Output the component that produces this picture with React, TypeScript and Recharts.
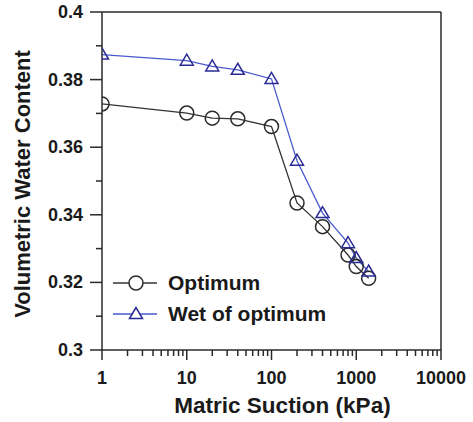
import React from 'react';
import { LineChart, Line, XAxis, YAxis, ReferenceLine, Label } from 'recharts';

const suction = [1, 10, 20, 40, 100, 200, 400, 800, 1000, 1400];
const optimum = [0.3728, 0.3701, 0.3686, 0.3684, 0.3661, 0.3435, 0.3365, 0.3281, 0.3247, 0.3212];
const wetOfOptimum = [0.3874, 0.3856, 0.3839, 0.3829, 0.3802, 0.356, 0.3405, 0.3316, 0.3272, 0.3232];

const xMajorTicks = [1, 10, 100, 1000, 10000];
const xTickLabels = ['1', '10', '100', '1000', '10000'];
const xTicks: number[] = [];
for (let d = 0; d < 4; d++) {
  for (let m = 1; m < 10; m++) xTicks.push(m * Math.pow(10, d));
}
xTicks.push(10000);

const yTicks = [0.3, 0.31, 0.32, 0.33, 0.34, 0.35, 0.36, 0.37, 0.38, 0.39, 0.4];
const yMajorTicks = [0.3, 0.32, 0.34, 0.36, 0.38, 0.4];
const yTickLabels = ['0.3', '0.32', '0.34', '0.36', '0.38', '0.4'];

const seriesNames = ['Optimum', 'Wet of optimum'];

const data = suction.map((s, i) => ({ s, opt: optimum[i], wet: wetOfOptimum[i] }));

const FONT = '"Liberation Sans", Arial, sans-serif';
const AXIS = '#2a2a2a';
const BLACK_LINE = '#333333';
const BLUE_LINE = '#4a5acc';
const BLUE_MARK = '#2b2b95';

const XTick = (props: any) => {
  const { x, y, payload } = props;
  const v = payload.value;
  const idx = xMajorTicks.findIndex((m) => Math.abs(m - v) < 1e-9);
  const major = idx >= 0;
  return (
    <g>
      <line x1={x} x2={x} y1={y} y2={y + (major ? 10 : 6)} stroke={AXIS} strokeWidth={1.5} />
      {major && (
        <text x={x} y={y + 34} textAnchor="middle" fontFamily={FONT} fontWeight="bold" fontSize={18} fill="#1a1a1a">
          {xTickLabels[idx]}
        </text>
      )}
    </g>
  );
};

const YTick = (props: any) => {
  const { x, y, payload } = props;
  const v = payload.value;
  const idx = yMajorTicks.findIndex((m) => Math.abs(m - v) < 1e-9);
  const major = idx >= 0;
  return (
    <g>
      <line x1={x - (major ? 12 : 6)} x2={x} y1={y} y2={y} stroke={AXIS} strokeWidth={1.5} />
      {major && (
        <text x={x - 19} y={y + 6} textAnchor="end" fontFamily={FONT} fontWeight="bold" fontSize={18} fill="#1a1a1a">
          {yTickLabels[idx]}
        </text>
      )}
    </g>
  );
};

const CircleDot = (props: any) => {
  const { cx, cy, index } = props;
  if (cx == null || cy == null) return null;
  return <circle key={`c${index}`} cx={cx} cy={cy} r={7} fill="none" stroke="#2a2a2a" strokeWidth={1.5} />;
};

const TriDot = (props: any) => {
  const { cx, cy, index } = props;
  if (cx == null || cy == null) return null;
  const pts = `${cx},${cy - 6.5} ${cx - 6.5},${cy + 4.5} ${cx + 6.5},${cy + 4.5}`;
  return <polygon key={`t${index}`} points={pts} fill="none" stroke={BLUE_MARK} strokeWidth={1.5} />;
};

const LegendBox = () => (
  <svg width={240} height={70} style={{ position: 'absolute', left: 113, top: 270, overflow: 'visible' }}>
    <line x1={0} x2={44} y1={13} y2={13} stroke={BLACK_LINE} strokeWidth={1.3} />
    <circle cx={23} cy={13} r={7} fill="#fff" stroke="#2a2a2a" strokeWidth={1.5} />
    <text x={55} y={20} fontFamily={FONT} fontWeight="bold" fontSize={21} fill="#1a1a1a">
      {seriesNames[0]}
    </text>
    <line x1={0} x2={44} y1={44} y2={44} stroke={BLUE_LINE} strokeWidth={1.3} />
    <polygon points="23,37.5 16.5,48.5 29.5,48.5" fill="#fff" stroke={BLUE_MARK} strokeWidth={1.5} />
    <text x={55} y={51} fontFamily={FONT} fontWeight="bold" fontSize={21} fill="#1a1a1a">
      {seriesNames[1]}
    </text>
  </svg>
);

export default function App() {
  return (
    <div style={{ position: 'absolute', left: 0, top: 0, width: 473, height: 422, background: '#fff' }}>
      <LineChart width={473} height={422} data={data} margin={{ top: 12, right: 32, left: 0, bottom: 0 }}>
        <XAxis
          dataKey="s"
          type="number"
          scale="log"
          domain={[1, 10000]}
          ticks={xTicks}
          interval={0}
          allowDataOverflow
          height={72}
          tickSize={0}
          tickMargin={0}
          tick={<XTick />}
          axisLine={{ stroke: AXIS, strokeWidth: 1.5 }}
        >
          <Label
            content={(p: any) => {
              const vb = p.viewBox;
              return (
                <text x={vb.x + vb.width / 2 + 11} y={413} textAnchor="middle" fontFamily={FONT} fontWeight="bold" fontSize={22.5} fill="#1a1a1a">
                  Matric Suction (kPa)
                </text>
              );
            }}
          />
        </XAxis>
        <YAxis
          type="number"
          domain={[0.3, 0.4]}
          ticks={yTicks}
          interval={0}
          allowDataOverflow
          width={102}
          tickSize={0}
          tickMargin={0}
          tick={<YTick />}
          axisLine={{ stroke: AXIS, strokeWidth: 1.5 }}
        >
          <Label
            content={(p: any) => {
              const vb = p.viewBox;
              const cx = 22;
              const cy = vb.y + vb.height / 2 + 3;
              return (
                <text
                  x={cx}
                  y={cy}
                  transform={`rotate(-90, ${cx}, ${cy})`}
                  textAnchor="middle"
                  dominantBaseline="central"
                  fontFamily={FONT}
                  fontWeight="bold"
                  fontSize={22}
                  fill="#1a1a1a"
                >
                  Volumetric Water Content
                </text>
              );
            }}
          />
        </YAxis>
        <ReferenceLine y={0.4} stroke={AXIS} strokeWidth={1.5} />
        <ReferenceLine x={10000} stroke={AXIS} strokeWidth={1.5} />
        <Line
          dataKey="opt"
          name={seriesNames[0]}
          stroke={BLACK_LINE}
          strokeWidth={1.3}
          dot={<CircleDot />}
          isAnimationActive={false}
        />
        <Line
          dataKey="wet"
          name={seriesNames[1]}
          stroke={BLUE_LINE}
          strokeWidth={1.3}
          dot={<TriDot />}
          isAnimationActive={false}
        />
      </LineChart>
      <LegendBox />
    </div>
  );
}
